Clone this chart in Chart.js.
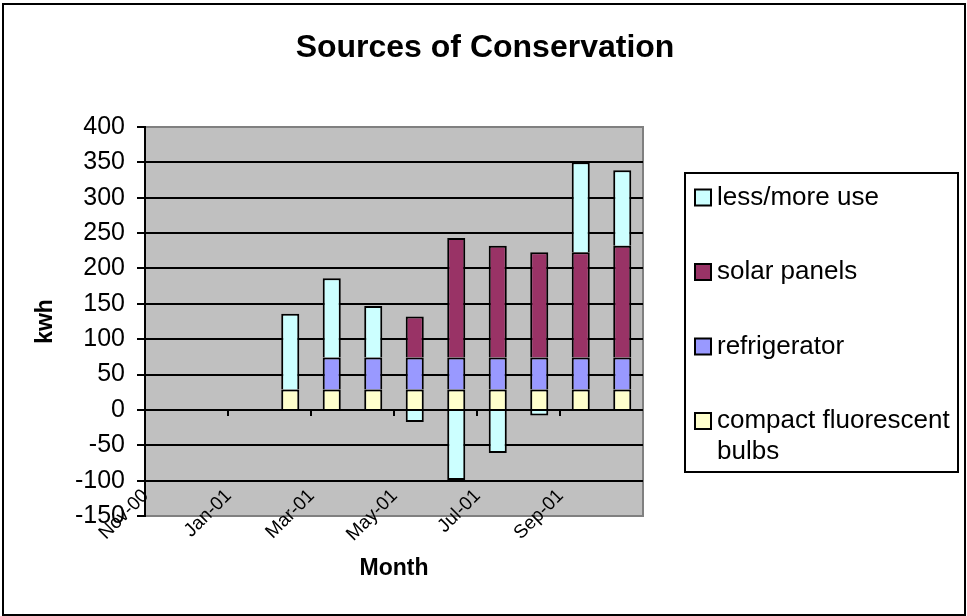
<!DOCTYPE html>
<html>
<head>
<meta charset="utf-8">
<title>Sources of Conservation</title>
<script src="https://cdn.jsdelivr.net/npm/chart.js@4.4.1/dist/chart.umd.min.js"></script>
<style>
  html, body { margin: 0; padding: 0; background: #fff; }
  #wrap { width: 967px; height: 616px; }
</style>
</head>
<body>
<div id="wrap"><canvas id="conservationChart" width="967" height="616"></canvas></div>
<script>
// kwh saved per month, Nov-00 .. Oct-01 (nothing recorded before Feb-01)
const months = ['Nov-00', 'Dec-00', 'Jan-01', 'Feb-01', 'Mar-01', 'Apr-01',
                'May-01', 'Jun-01', 'Jul-01', 'Aug-01', 'Sep-01', 'Oct-01'];

const cflBulbs     = [null, null, null, 29, 29, 29, 29, 29, 29, 29, 29, 29];
const refrigerator = [null, null, null, null, 45, 45, 45, 45, 45, 45, 45, 45];
const solarPanels  = [null, null, null, null, null, null, 58, 169, 158, 149, 149, 158];
const lessMoreUse  = [null, null, null, 107, 112, 73, -17, -99, -61, -8, 127, 107];

const seriesNames  = ['compact fluorescent bulbs', 'refrigerator', 'solar panels', 'less/more use'];
const seriesColors = ['#ffffcc', '#9999ff', '#993366', '#ccffff'];

const yMin = -150, yMax = 400, yStep = 50;

const FONT = '"Liberation Sans", Arial, sans-serif';
Chart.defaults.font.family = FONT;
Chart.defaults.color = '#000';

// white page, outer frame, grey plot area, title and the boxed legend
const excelFrame = {
  id: 'excelFrame',
  beforeDraw(chart) {
    const { ctx, chartArea: a } = chart;
    ctx.save();
    ctx.fillStyle = '#fff';
    ctx.fillRect(0, 0, chart.width, chart.height);
    ctx.strokeStyle = '#000';
    ctx.lineWidth = 2;
    ctx.strokeRect(3, 4, chart.width - 5, chart.height - 5);
    ctx.fillStyle = '#c0c0c0';
    ctx.fillRect(a.left, a.top, a.width, a.height);
    ctx.strokeStyle = '#808080';
    ctx.strokeRect(a.left, a.top, a.width, a.height);
    ctx.restore();
  },
  afterDraw(chart) {
    const ctx = chart.ctx;
    ctx.save();
    ctx.fillStyle = '#000';
    ctx.font = 'bold 32px ' + FONT;
    ctx.textAlign = 'center';
    ctx.textBaseline = 'alphabetic';
    ctx.fillText('Sources of Conservation', 485, 57);

    // legend box
    const box = { x: 685, y: 173, w: 273, h: 299 };
    ctx.lineWidth = 2;
    ctx.strokeStyle = '#000';
    ctx.strokeRect(box.x, box.y, box.w, box.h);

    ctx.font = '26px ' + FONT;
    ctx.textAlign = 'left';
    ctx.textBaseline = 'middle';
    const textX = 717, maxW = box.x + box.w - textX - 3;
    let y = 197.5;
    chart.data.datasets.slice().reverse().forEach(ds => {
      ctx.fillStyle = ds.backgroundColor;
      ctx.fillRect(695, y - 8, 16, 16);
      ctx.strokeRect(695, y - 8, 16, 16);
      ctx.fillStyle = '#000';
      // simple word wrap
      let line = '', lineY = y;
      ds.label.split(' ').forEach(word => {
        const test = line ? line + ' ' + word : word;
        if (line && ctx.measureText(test).width > maxW) {
          ctx.fillText(line, textX, lineY);
          line = word;
          lineY += 31;
        } else {
          line = test;
        }
      });
      ctx.fillText(line, textX, lineY);
      y += 74.5;
    });
    ctx.restore();
  }
};

const values = [cflBulbs, refrigerator, solarPanels, lessMoreUse];

new Chart(document.getElementById('conservationChart'), {
  type: 'bar',
  data: {
    labels: months,
    datasets: seriesNames.map((name, i) => ({
      label: name,
      data: values[i],
      backgroundColor: seriesColors[i],
      borderColor: '#000',
      borderWidth: 2,
      categoryPercentage: 1,
      barPercentage: 0.435
    }))
  },
  plugins: [excelFrame],
  options: {
    responsive: false,
    animation: false,
    layout: { padding: { top: 127, right: 324, bottom: 0, left: 0 } },
    plugins: {
      legend: { display: false },
      title: { display: false },
      tooltip: { enabled: false }
    },
    scales: {
      x: {
        stacked: true,
        offset: true,
        grid: { display: false, drawTicks: false },
        border: { display: false },
        ticks: {
          autoSkip: false,
          mirror: true, // labels reach up into the plot like the original, so no clipping
          minRotation: 45,
          maxRotation: 45,
          padding: 15,
          labelOffset: -4,
          font: { size: 19 },
          callback: function (value, index) {
            return index % 2 === 0 ? this.getLabelForValue(value) : '';
          }
        },
        title: {
          display: true,
          text: 'Month',
          font: { size: 23, weight: 'bold' },
          padding: { top: 0, bottom: 34 }
        },
        afterFit: scale => { scale.height = 100; }
      },
      // tick marks sitting on the zero line, every two months
      xZero: {
        type: 'category',
        position: { y: 0 },
        offset: true,
        border: { display: false },
        ticks: { display: false },
        grid: {
          offset: true,
          drawOnChartArea: false,
          tickLength: 6,
          lineWidth: 2,
          color: c => (c.index % 2 === 0 ? '#000' : 'rgba(0,0,0,0)')
        }
      },
      y: {
        stacked: true,
        min: yMin,
        max: yMax,
        ticks: { stepSize: yStep, padding: 12, font: { size: 25 } },
        grid: {
          lineWidth: 2,
          tickLength: 8,
          tickColor: '#000',
          color: c => (c.tick && (c.tick.value === yMax || c.tick.value === yMin) ? '#808080' : '#000')
        },
        border: { display: true, color: '#000', width: 2 },
        title: {
          display: true,
          text: 'kwh',
          font: { size: 23, weight: 'bold' },
          padding: { top: 32, bottom: 0 }
        },
        afterFit: scale => { scale.width = 145; }
      }
    }
  }
});
</script>
</body>
</html>
